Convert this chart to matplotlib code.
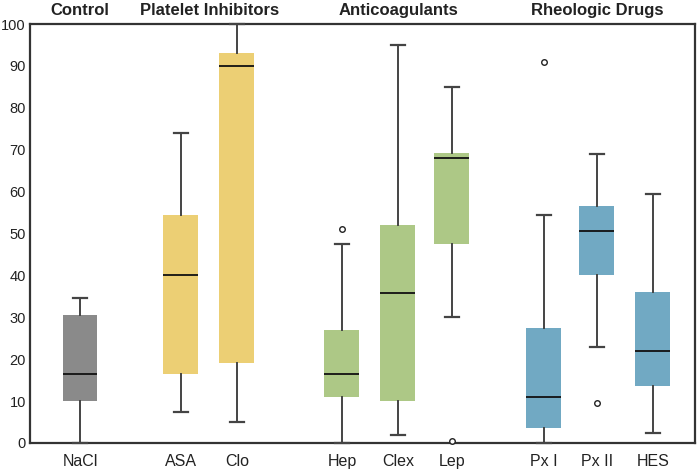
import matplotlib
matplotlib.use("Agg")
import matplotlib.pyplot as plt

plt.rcParams['font.family'] = ['Liberation Sans', 'DejaVu Sans']

labels = ["NaCl", "ASA", "Clo", "Hep", "Clex", "Lep", "Px I", "Px II", "HES"]
groups = ["Control", "Platelet Inhibitors", "Anticoagulants", "Rheologic Drugs"]
group_of = [0, 1, 1, 2, 2, 2, 3, 3, 3]
whislo = [0, 7.5, 5, 0, 1.8, 30, 0, 23, 2.5]
q1 = [10, 16.5, 19.2, 11, 10, 47.5, 3.5, 40, 13.5]
med = [16.5, 40, 90, 16.5, 35.8, 68, 11, 50.7, 22]
q3 = [30.5, 54.5, 93, 27, 52, 69.3, 27.5, 56.5, 36]
whishi = [34.6, 74, 100, 47.5, 95, 85, 54.5, 69, 59.5]
fliers = [[], [], [], [51], [], [0.5], [91], [9.5], []]
yticks = list(range(0, 101, 10))

group_colors = ["#8a8a8a", "#eccf74", "#adc886", "#71a9c3"]
positions = [80, 181, 237, 342, 398, 452, 544, 597, 653]
group_pos = [80, 210, 398, 597]

stats = []
for i in range(len(labels)):
    stats.append(dict(label=labels[i], whislo=whislo[i], q1=q1[i], med=med[i],
                      q3=q3[i], whishi=whishi[i], fliers=fliers[i]))

fig = plt.figure(figsize=(7, 4.72), dpi=100)
ax = fig.add_axes([30/700, 1-443/472, 665/700, 419/472])

bp = ax.bxp(stats, positions=positions, widths=35, patch_artist=True,
            showfliers=True,
            boxprops=dict(linewidth=0),
            medianprops=dict(color="#111111", linewidth=1.3),
            whiskerprops=dict(color="#444444", linewidth=1.4),
            capprops=dict(color="#444444", linewidth=1.6),
            flierprops=dict(marker="o", markersize=4, markerfacecolor="white",
                            markeredgecolor="#222222", markeredgewidth=1.0),
            capwidths=14)
for patch, g in zip(bp['boxes'], group_of):
    patch.set_facecolor(group_colors[g])
    patch.set_edgecolor(group_colors[g])
for c in bp['caps']:
    c.set_clip_on(False)
    c.set_zorder(4)
for f in bp['fliers']:
    f.set_clip_on(False)
    f.set_zorder(4)

ax.set_xlim(30, 695)
ax.set_ylim(0, 100)
ax.set_yticks(yticks)
ax.set_yticklabels([str(t) for t in yticks], fontsize=10.5, color="#222222")
ax.tick_params(axis='y', length=0, pad=3)
ax.tick_params(axis='x', length=0, pad=8, labelsize=11.5, colors="#222222")
ax.set_xticks(positions)
ax.set_xticklabels(labels)
for s in ax.spines.values():
    s.set_linewidth(1.6)
    s.set_color("#333333")

for name, x in zip(groups, group_pos):
    ax.text(x, 1.015, name, transform=ax.get_xaxis_transform(), ha='center',
            va='bottom', fontsize=12, fontweight='bold', color="#222222")

fig.savefig("out.png", dpi=100)
